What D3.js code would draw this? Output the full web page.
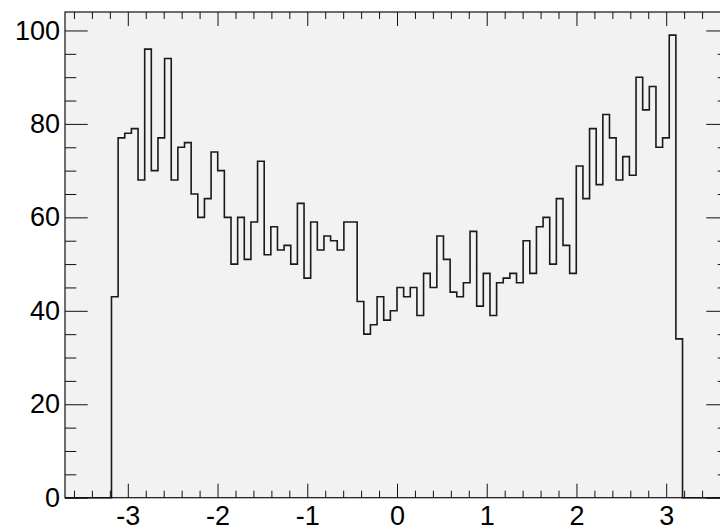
<!DOCTYPE html>
<html>
<head>
<meta charset="utf-8">
<script src="https://cdn.jsdelivr.net/npm/d3@7"></script>
<style>
  html, body { margin: 0; padding: 0; background: #fff; overflow: hidden; }
  svg { display: block; }
</style>
</head>
<body>
<svg id="chart" width="720" height="525"></svg>
<script>
// Histogram: 100 equal bins over [-3.7, 3.7]
const xRange = [-3.7, 3.7];
const counts = [
  0, 0, 0, 0, 0, 0, 0,
  43, 77, 78, 79, 68, 96, 70, 77, 94, 68,
  75, 76, 65, 60, 64, 74, 70, 60, 50, 60,
  51, 59, 72, 52, 58, 53, 54, 50, 63, 47,
  59, 53, 56, 55, 53, 59, 59, 42, 35, 37,
  43, 38, 40, 45, 43, 45, 39, 48, 45, 56,
  51, 44, 43, 46, 57, 41, 48, 39, 46, 47,
  48, 46, 55, 48, 58, 60, 50, 64, 54, 48,
  71, 64, 79, 67, 82, 77, 68, 73, 69, 90,
  83, 88, 75, 77, 99, 34,
  0, 0, 0, 0, 0, 0, 0
];
const xMajorTicks = [-3, -2, -1, 0, 1, 2, 3];
const xTickLabels = ["-3", "-2", "-1", "0", "1", "2", "3"];
const yMajorTicks = [0, 20, 40, 60, 80, 100];
const yTickLabels = ["0", "20", "40", "60", "80", "100"];

const frame = { left: 65, top: 12, right: 729, bottom: 497.7 };
const fontFamily = '"Liberation Sans", Arial, Helvetica, sans-serif';

const svg = d3.select("#chart");

const nBins = counts.length;
const binWidth = (xRange[1] - xRange[0]) / nBins;
const yMax = 1.05 * d3.max(counts);

const x = d3.scaleLinear().domain(xRange).range([frame.left, frame.right]);
const y = d3.scaleLinear().domain([0, yMax]).range([frame.bottom, frame.top]);

// frame background
svg.append("rect")
  .attr("x", frame.left).attr("y", frame.top)
  .attr("width", frame.right - frame.left)
  .attr("height", frame.bottom - frame.top)
  .attr("fill", "#f2f2f2");

// step outline of the histogram
const pts = [[xRange[0], 0]];
counts.forEach((c, i) => {
  const x0 = xRange[0] + i * binWidth;
  pts.push([x0, c], [x0 + binWidth, c]);
});
pts.push([xRange[1], 0]);

svg.append("path")
  .datum(pts)
  .attr("fill", "none")
  .attr("stroke", "#1a1a1a")
  .attr("stroke-width", 1.6)
  .attr("stroke-linejoin", "miter")
  .attr("d", d3.line().x(d => x(d[0])).y(d => y(d[1])));

// minor tick positions
const xMinor = d3.range(-36, 37, 2).map(v => v / 10).filter(v => Math.abs(v - Math.round(v)) > 1e-6);
const yMinor = d3.range(5, yMax, 5).filter(v => v % 20 !== 0);

function styleAxis(g) {
  g.select(".domain").remove();
  g.selectAll(".tick line").attr("stroke", "#111").attr("stroke-width", 1);
  g.selectAll("text")
    .attr("fill", "#000")
    .style("font-family", fontFamily)
    .style("font-size", "27px");
}

// bottom axis
svg.append("g").attr("transform", `translate(0,${frame.bottom})`)
  .call(d3.axisBottom(x).tickValues(xMajorTicks).tickSize(-14).tickPadding(8)
    .tickFormat((d, i) => xTickLabels[i]))
  .call(styleAxis);
svg.append("g").attr("transform", `translate(0,${frame.bottom})`)
  .call(d3.axisBottom(x).tickValues(xMinor).tickSize(-7).tickFormat(""))
  .call(styleAxis);

// top axis (ticks only)
svg.append("g").attr("transform", `translate(0,${frame.top})`)
  .call(d3.axisTop(x).tickValues(xMajorTicks).tickSize(-14).tickFormat(""))
  .call(styleAxis);
svg.append("g").attr("transform", `translate(0,${frame.top})`)
  .call(d3.axisTop(x).tickValues(xMinor).tickSize(-7).tickFormat(""))
  .call(styleAxis);

// left axis
svg.append("g").attr("transform", `translate(${frame.left},0)`)
  .call(d3.axisLeft(y).tickValues(yMajorTicks).tickSize(-22.7).tickPadding(5)
    .tickFormat((d, i) => yTickLabels[i]))
  .call(styleAxis);
svg.append("g").attr("transform", `translate(${frame.left},0)`)
  .call(d3.axisLeft(y).tickValues(yMinor).tickSize(-11.3).tickFormat(""))
  .call(styleAxis);

// right axis (ticks only)
svg.append("g").attr("transform", `translate(${frame.right},0)`)
  .call(d3.axisRight(y).tickValues(yMajorTicks).tickSize(-22.7).tickFormat(""))
  .call(styleAxis);
svg.append("g").attr("transform", `translate(${frame.right},0)`)
  .call(d3.axisRight(y).tickValues(yMinor).tickSize(-11.3).tickFormat(""))
  .call(styleAxis);

// frame border
svg.append("rect")
  .attr("x", frame.left).attr("y", frame.top)
  .attr("width", frame.right - frame.left)
  .attr("height", frame.bottom - frame.top)
  .attr("fill", "none")
  .attr("stroke", "#111")
  .attr("stroke-width", 1.2);
</script>
</body>
</html>
